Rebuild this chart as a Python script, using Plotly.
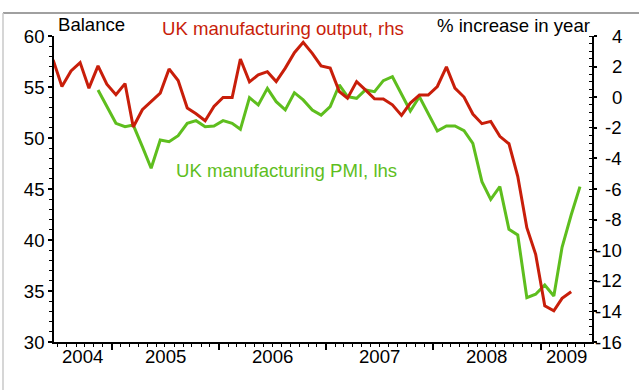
import pandas as pd
import plotly.graph_objects as go

# UK manufacturing output, % increase in year (right-hand scale), monthly from June 2004
output_start = "2004-06"
output_yoy = [
    2.44, 0.70, 1.72, 2.26, 0.59, 2.05, 0.85,
    0.16, 0.89, -1.95, -0.82, -0.28, 0.27, 1.85, 1.09, -0.71, -1.08, -1.54, -0.61,
    -0.02, -0.02, 2.50, 1.00, 1.46, 1.67, 1.02, 1.90, 2.91, 3.59, 2.87, 2.05,
    1.90, 0.37, -0.06, 1.02, 0.48, -0.10, -0.12, -0.50, -1.19, -0.38, 0.14, 0.14,
    0.70, 1.98, 0.59, 0.01, -1.10, -1.73, -1.58, -2.56, -3.04, -5.17, -8.53, -10.27,
    -13.63, -13.96, -13.15, -12.72,
]

# UK manufacturing PMI balance (left-hand scale), monthly from November 2004
pmi_start = "2004-11"
pmi = [
    54.71, 53.07,
    51.44, 51.11, 51.27, 49.15, 47.03, 49.80, 49.64, 50.23, 51.44, 51.70, 51.11, 51.18,
    51.70, 51.44, 50.85, 53.95, 53.24, 54.87, 53.56, 52.75, 54.44, 53.73, 52.75, 52.25,
    53.07, 55.20, 54.05, 53.89, 54.71, 54.54, 55.62, 56.01, 54.38, 52.65, 54.05, 52.42,
    50.69, 51.18, 51.18, 50.72, 49.48, 45.72, 43.99, 45.23, 41.05, 40.49, 34.34, 34.68,
    35.59, 34.51, 39.28, 42.45, 45.23,
]

years = [2004, 2005, 2006, 2007, 2008, 2009]
left_ticks = [30, 35, 40, 45, 50, 55, 60]
right_ticks = [4, 2, 0, -2, -4, -6, -8, -10, -12, -14, -16]
x_range = ["2004-06-18", "2009-06-25"]

RED = "#C81E0A"
GREEN = "#5EBE1E"
FONT = "Arial, Liberation Sans, sans-serif"
FS = 18.6


def mid_month(start, n):
    return pd.date_range(start + "-01", periods=n, freq="MS") + pd.Timedelta(days=14)


fig = go.Figure()
fig.add_trace(go.Scatter(
    x=mid_month(pmi_start, len(pmi)), y=pmi, mode="lines",
    line=dict(color=GREEN, width=3), yaxis="y", hoverinfo="skip",
))
fig.add_trace(go.Scatter(
    x=mid_month(output_start, len(output_yoy)), y=output_yoy, mode="lines",
    line=dict(color=RED, width=3), yaxis="y2", hoverinfo="skip",
))

# plot area geometry in pixels (used to place free text)
W, H = 639, 390
L, R, T, B = 54, 47, 36, 48
pw, ph = W - L - R, H - T - B


def px_x(p):
    return (p - L) / pw


def px_y(p):
    return (H - B - p) / ph


annotations = []

# year labels centred in the visible part of each year
r0, r1 = pd.Timestamp(x_range[0]), pd.Timestamp(x_range[1])
for yr in years:
    a = max(r0, pd.Timestamp(f"{yr}-01-01"))
    b = min(r1, pd.Timestamp(f"{yr + 1}-01-01"))
    mid = a + (b - a) / 2
    annotations.append(dict(
        x=mid, xref="x", y=px_y(356.5), yref="paper", text=str(yr),
        showarrow=False, xanchor="center", yanchor="middle",
        font=dict(size=FS, color="black", family=FONT),
    ))

# right-hand scale labels, right-aligned
for v in right_ticks:
    annotations.append(dict(
        x=px_x(624), xref="paper", y=v, yref="y2", text=str(v),
        showarrow=False, xanchor="right", yanchor="middle",
        font=dict(size=FS, color="black", family=FONT),
    ))

annotations += [
    dict(x=px_x(56), y=px_y(25), xref="paper", yref="paper", text="Balance",
         showarrow=False, xanchor="left", yanchor="middle",
         font=dict(size=FS, color="black", family=FONT)),
    dict(x=px_x(160), y=px_y(28), xref="paper", yref="paper",
         text="UK manufacturing output, rhs",
         showarrow=False, xanchor="left", yanchor="middle",
         font=dict(size=FS, color=RED, family=FONT)),
    dict(x=px_x(592), y=px_y(26), xref="paper", yref="paper",
         text="% increase in year",
         showarrow=False, xanchor="right", yanchor="middle",
         font=dict(size=FS, color="black", family=FONT)),
    dict(x=px_x(174), y=px_y(170), xref="paper", yref="paper",
         text="UK manufacturing PMI, lhs",
         showarrow=False, xanchor="left", yanchor="middle",
         font=dict(size=FS, color=GREEN, family=FONT)),
]

shapes = [
    dict(type="line", xref="paper", yref="paper",
         x0=px_x(3), x1=px_x(W + 5), y0=px_y(13), y1=px_y(13),
         line=dict(color="#808080", width=1.5)),
    dict(type="line", xref="paper", yref="paper",
         x0=px_x(3), x1=px_x(3), y0=px_y(13), y1=px_y(H + 5),
         line=dict(color="#C8C8C8", width=1.5)),
]

fig.update_layout(
    width=W, height=H,
    margin=dict(l=L, r=R, t=T, b=B, pad=0),
    paper_bgcolor="white", plot_bgcolor="white",
    showlegend=False,
    font=dict(family=FONT, size=FS, color="black"),
    annotations=annotations,
    shapes=shapes,
    xaxis=dict(
        type="date", range=x_range,
        tickmode="array",
        tickvals=[f"{y}-01-01" for y in years[1:]],
        showticklabels=False,
        ticks="outside", ticklen=6, tickwidth=1.5, tickcolor="black",
        showline=True, linecolor="black", linewidth=1.5,
        showgrid=False, zeroline=False,
        minor=dict(dtick="M1", tick0="2004-01-01", ticks="outside",
                   ticklen=3, tickwidth=1, tickcolor="black", showgrid=False),
    ),
    yaxis=dict(
        range=[30, 60], tickmode="array", tickvals=left_ticks,
        ticks="outside", ticklen=4, tickwidth=1.5, tickcolor="black",
        tickfont=dict(size=FS, color="black", family=FONT),
        showline=True, linecolor="black", linewidth=1.5,
        showgrid=False, zeroline=False,
        minor=dict(dtick=1, ticks="outside", ticklen=3, tickwidth=1,
                   tickcolor="black", showgrid=False),
    ),
    yaxis2=dict(
        range=[-16, 4], overlaying="y", side="right",
        tickmode="array", tickvals=right_ticks, showticklabels=False,
        ticks="outside", ticklen=3, tickwidth=1.5, tickcolor="black",
        showline=True, linecolor="black", linewidth=1.5,
        showgrid=False, zeroline=False,
        minor=dict(dtick=0.5, ticks="inside", ticklen=3, tickwidth=1,
                   tickcolor="black", showgrid=False),
    ),
)

fig.write_html("out.html")
